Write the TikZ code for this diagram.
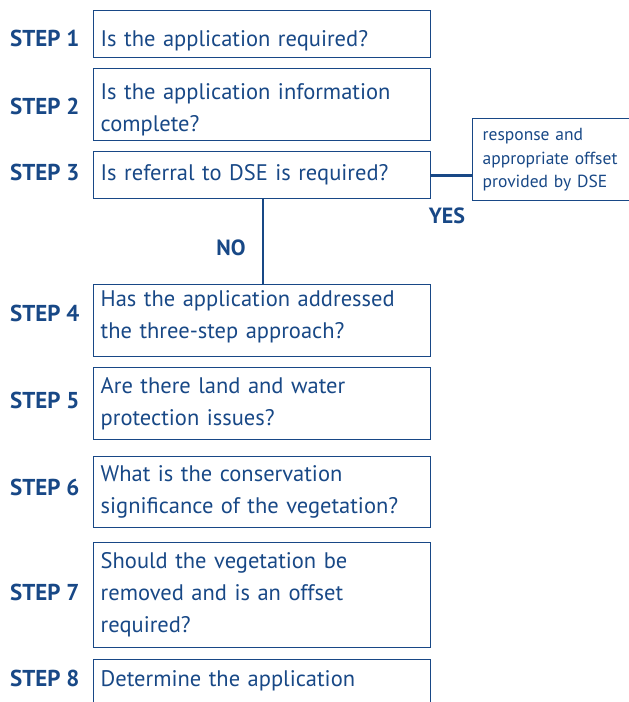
\documentclass[tikz,border=0pt]{standalone}
\usepackage{fontspec}
\setmainfont{PT Sans}
\definecolor{dseblue}{RGB}{24,72,134}
\begin{document}
\begin{tikzpicture}[x=1pt,y=-1pt,
  stepbox/.style={draw=dseblue, line width=1.4pt, anchor=north west, minimum width=337pt,
     text width=323pt, inner xsep=7pt, inner ysep=0pt, align=left, text=dseblue,
     font=\fontsize{22.5}{32}\selectfont},
  steplabel/.style={anchor=west, text=dseblue, inner sep=0pt, font=\fontsize{23}{26}\selectfont\bfseries},
  conn/.style={draw=dseblue, line width=2.6pt},
  tag/.style={text=dseblue, inner sep=0pt, font=\fontsize{22}{25}\selectfont\bfseries}]
\useasboundingbox (0,0) rectangle (629,702);
\clip (0,0) rectangle (629,702);
\node[stepbox, minimum height=47pt] (b1) at (93,10) {\rule{0pt}{29pt}Is the application required?};
\node[stepbox, minimum height=72pt] (b2) at (93,68) {\rule{0pt}{27pt}Is the application information\\complete?};
\node[stepbox, minimum height=47pt] (b3) at (93,151) {Is referral to DSE is required?};
\node[stepbox, minimum height=72pt] (b4) at (93,284) {Has the application addressed\\the three-step approach?\rule[-13pt]{0pt}{1pt}};
\node[stepbox, minimum height=72pt] (b5) at (93,367) {Are there land and water\\protection issues?};
\node[stepbox, minimum height=71pt] (b6) at (93,456) {What is the conservation\\significance of the vegetation?};
\node[stepbox, minimum height=105pt] (b7) at (93,542) {Should the vegetation be\\removed and is an offset\\required?};
\node[stepbox, minimum height=70pt] (b8) at (93,659) {Determine the application\\\mbox{}};
\node[draw=dseblue, line width=1.4pt, anchor=north west, minimum width=170pt, minimum height=82pt,
      text width=150pt, inner xsep=8pt, inner ysep=0pt, align=left, text=dseblue,
      font=\fontsize{17.5}{23.5}\selectfont] (r) at (472,118) {response and\\appropriate offset\\provided by DSE};
\node[steplabel] (s1) at (10,38) {STEP 1};
\node[steplabel] (s2) at (10,106) {STEP 2};
\node[steplabel] (s3) at (10,172) {STEP 3};
\node[steplabel] (s4) at (10,313) {STEP 4};
\node[steplabel] (s5) at (10,400) {STEP 5};
\node[steplabel] (s6) at (10,487) {STEP 6};
\node[steplabel] (s7) at (10,592) {STEP 7};
\node[steplabel] (s8) at (10,678) {STEP 8};
\draw[conn] (b3.east) -- (b3.east -| r.west);
\draw[conn] (b3.south -| 263,0) -- (b4.north -| 263,0);
\node[tag] (yes) at (447,216) {YES};
\node[tag] (no) at (231,248) {NO};
\end{tikzpicture}
\end{document}
